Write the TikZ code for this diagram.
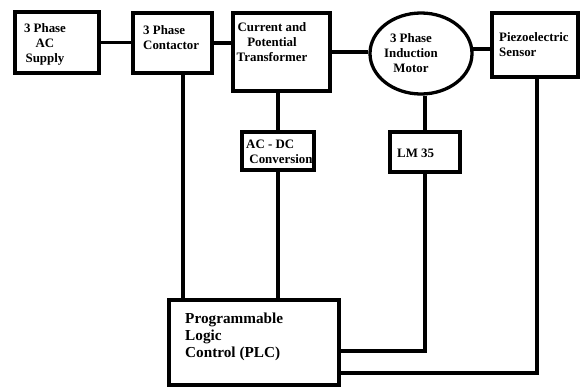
\documentclass[tikz,border=0pt]{standalone}
\usepackage{fontspec}
\setmainfont{Liberation Serif}
\usetikzlibrary{shapes.geometric,calc}

\tikzset{
  blk/.style={draw, line width=2.8pt, inner sep=0pt},
  lbl/.style={inner sep=0pt, font=\fontsize{11}{12.8}\selectfont\bfseries},
  wire/.style={line width=2.8pt}
}

\begin{document}
\begin{tikzpicture}[x=0.03cm, y=-0.03cm]
  \useasboundingbox (0,0) rectangle (580,387);

  % Top row of blocks
  \node[blk, minimum width=2.52cm, minimum height=1.83cm] (sup) at (57,42.5) {};
  \node[lbl, align=center] (suptxt) at (45,44) {3 Phase\\AC\\Supply};

  \node[blk, minimum width=2.37cm, minimum height=1.8cm] (con) at (172.5,43) {};
  \node[lbl, align=left, anchor=west] (contxt) at (143,38) {3 Phase\\Contactor};

  \node[blk, minimum width=2.91cm, minimum height=2.34cm] (ct) at (281.5,52) {};
  \node[lbl, align=center] (cttxt) at (272,42) {Current and\\Potential\\Transformer};

  \node[blk, ellipse, minimum width=3.06cm, minimum height=2.43cm] (mot) at (421,53.5) {};
  \node[lbl, align=center] (mottxt) at (411,53) {3 Phase\\Induction\\Motor};

  \node[blk, minimum width=2.58cm, minimum height=1.92cm] (pz) at (535,45) {};
  \node[lbl, align=left, anchor=west] (pztxt) at (499,45) {Piezoelectric\\Sensor};

  % Middle blocks
  \node[blk, minimum width=2.16cm, minimum height=1.14cm] (acdc) at (278,151) {};
  \node[lbl, align=left, anchor=west] (acdctxt) at (246,152) {AC - DC\\\ Conversion};

  \node[blk, minimum width=2.1cm, minimum height=1.2cm] (lm) at (425,152) {};
  \node[lbl, anchor=west] (lmtxt) at (397,153) {LM 35};

  % PLC
  \node[blk, minimum width=5.1cm, minimum height=2.55cm] (plc) at (254,342.5) {};
  \node[lbl, align=left, anchor=west, font=\fontsize{13}{14.5}\selectfont\bfseries] (plctxt) at (185,337) {Programmable\\Logic\\Control (PLC)};

  % Links along the top
  \draw[wire] (sup.east) -- (sup.east -| con.west);
  \draw[wire] (con.east) -- (con.east -| ct.west);
  \draw[wire] (ct.east) -- (ct.east -| mot.west);
  \draw[wire] (mot.5) -- (mot.5 -| pz.west);

  % Links down to the PLC
  \coordinate (cdown) at ($(con.south)+(10.5,0)$);
  \draw[wire] (cdown) -- (cdown |- plc.north);
  \draw[wire] (acdc.north |- ct.south) -- (acdc.north);
  \draw[wire] (acdc.south) -- (acdc.south |- plc.north);
  \draw[wire] (lm.north |- mot.south) -- (lm.north);
  \coordinate (lmin) at ($(plc.east)+(0,8.5)$);
  \draw[wire] (lm.south) |- (lmin);
  \coordinate (pzin) at ($(plc.east)+(0,30.5)$);
  \draw[wire] ($(pz.south)+(2,0)$) |- (pzin);
\end{tikzpicture}
\end{document}
